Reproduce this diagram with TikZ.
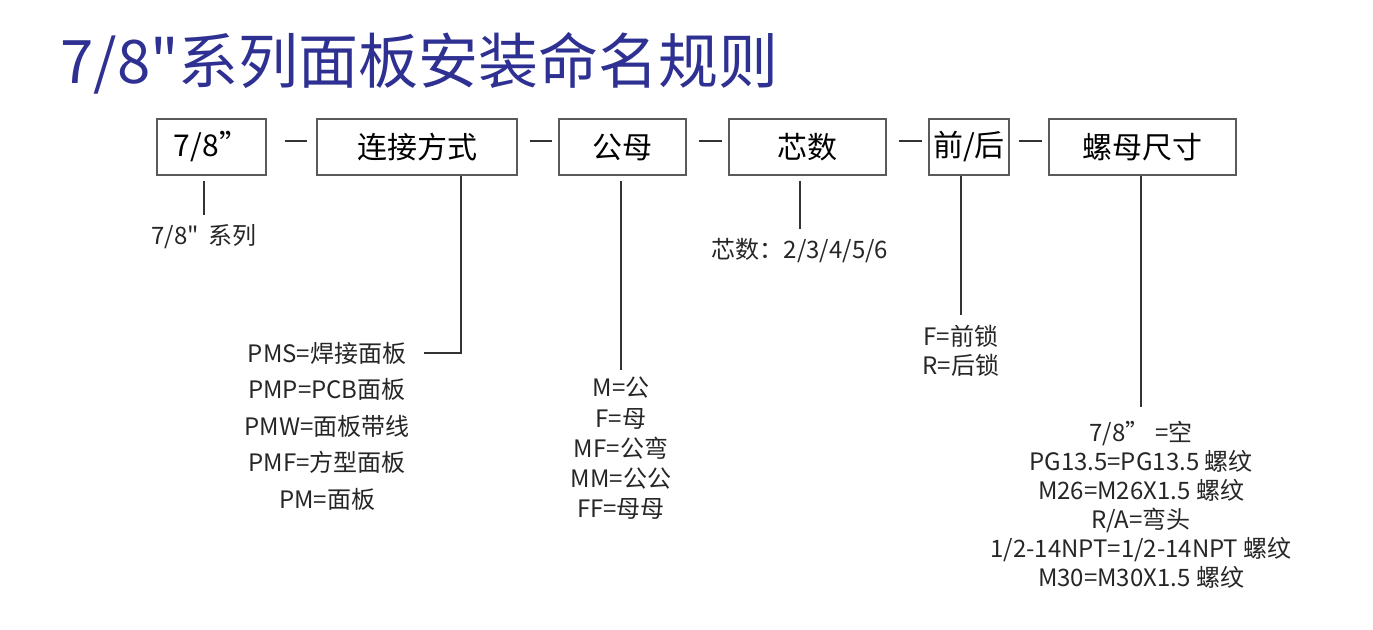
\documentclass[tikz,border=0pt]{standalone}
\usepackage{fontspec}
\usepackage{tikz}
\usetikzlibrary{matrix}
\newfontfamily\cjk{Noto Sans CJK SC}
\definecolor{titleblue}{RGB}{46,49,146}
\definecolor{boxgray}{RGB}{90,90,90}

\tikzset{
  field/.style={rectangle,draw=boxgray,line width=1.3pt,minimum height=56pt,inner sep=0pt,
    font=\cjk\fontsize{30}{35}\selectfont},
  lbl/.style={inner sep=0pt,font=\cjk\fontsize{24}{28}\selectfont,text=black!85},
  stem/.style={line width=1.3pt,black!80},
  dashlink/.style={line width=1.3pt,black!80,shorten <=12pt,shorten >=6pt},
}

\begin{document}
\begin{tikzpicture}[x=1pt,y=-1pt]
    \useasboundingbox (0,0) rectangle (1373,629);
    \node (title) [anchor=west,text=titleblue,inner sep=0pt,
                   font=\cjk\fontsize{60}{66}\selectfont] at (60,63) {7/8"系列面板安装命名规则};

    \node[field,minimum width=109pt] (b1) at (211.5,147) {7/8”};
    \node[field,minimum width=200pt] (b2) at (417,147)   {连接方式};
    \node[field,minimum width=127pt] (b3) at (622.5,147) {公母};
    \node[field,minimum width=157pt] (b4) at (807.5,147) {芯数};
    \node[field,minimum width=80pt]  (b5) at (969,147)   {前/后};
    \node[field,minimum width=187pt] (b6) at (1142.5,147) {螺母尺寸};

    \draw[dashlink,shorten <=18pt,shorten >=9pt] ([yshift=6pt]b1.east) -- ([yshift=6pt]b2.west);
    \draw[dashlink] ([yshift=6pt]b2.east) -- ([yshift=6pt]b3.west);
    \draw[dashlink] ([yshift=6pt]b3.east) -- ([yshift=6pt]b4.west);
    \draw[dashlink] ([yshift=6pt]b4.east) -- ([yshift=6pt]b5.west);
    \draw[dashlink,shorten <=9pt] ([yshift=6pt]b5.east) -- ([yshift=6pt]b6.west);

    \node[lbl] (l1) at (204,237) {7/8"\, 系列};
    \node[lbl] (l4) at (800,251) {芯数：2/3/4/5/6};
    \matrix (l2) [matrix of nodes,nodes={lbl},inner sep=0pt,
                  row sep={36.5pt,between origins}] at (327,426)
      { |(pms)| PMS=焊接面板 \\
        PMP=PCB面板 \\
        PMW=面板带线 \\
        PMF=方型面板 \\
        PM=面板 \\
      };
    \matrix (l3) [matrix of nodes,nodes={lbl},inner sep=0pt,
                  row sep={30.25pt,between origins}] at (621,448.5)
      { M=公 \\
        F=母 \\
        MF=公弯 \\
        MM=公公 \\
        FF=母母 \\
      };
    \matrix (l5) [matrix of nodes,nodes={lbl},inner sep=0pt,
                  row sep={29pt,between origins}] at (961,350.5)
      { F=前锁 \\
        R=后锁 \\
      };
    \matrix (l6) [matrix of nodes,nodes={lbl},inner sep=0pt,
                  row sep={29pt,between origins}] at (1141,504.5)
      { 7/8” =空 \\
        PG13.5=PG13.5 螺纹 \\
        M26=M26X1.5 螺纹 \\
        R/A=弯头 \\
        1/2-14NPT=1/2-14NPT 螺纹 \\
        M30=M30X1.5 螺纹 \\
      };

    \draw[stem,shorten <=5pt,shorten >=10pt] (l1.north |- b1.south) -- (l1.north);
    \draw[stem] ([xshift=44pt]b2.south) |- ([xshift=18pt]pms.east);
    \draw[stem,shorten <=5pt,shorten >=7pt] (l3.north |- b3.south) -- (l3.north);
    \draw[stem,shorten <=5pt,shorten >=10pt] (l4.north |- b4.south) -- (l4.north);
    \draw[stem,shorten >=10pt] (l5.north |- b5.south) -- (l5.north);
    \draw[stem,shorten >=14pt] (l6.north |- b6.south) -- (l6.north);
\end{tikzpicture}
\end{document}
